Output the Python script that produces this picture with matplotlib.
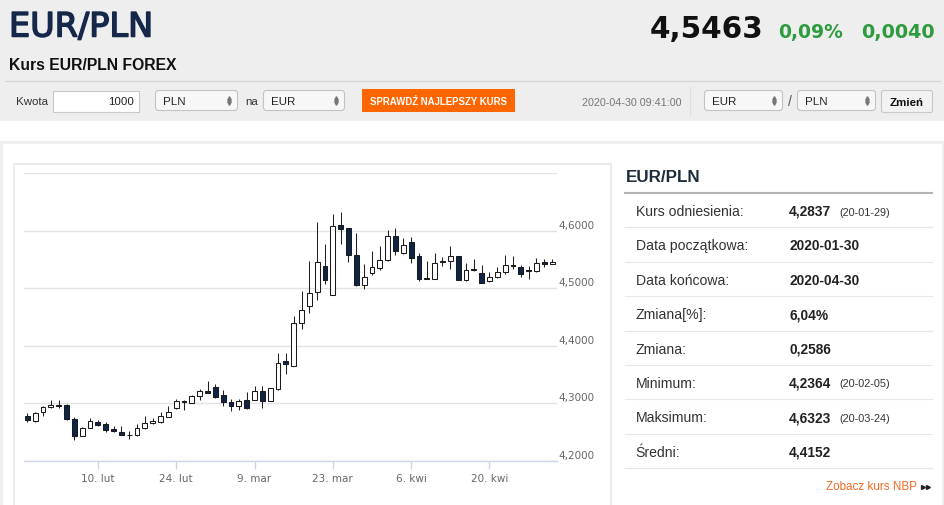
import matplotlib
matplotlib.use("Agg")
import matplotlib.pyplot as plt
import matplotlib.transforms as mtransforms
import matplotlib.patheffects as pe
from matplotlib.patches import Rectangle, FancyBboxPatch
import pandas as pd

# ---------------- data ----------------
dates = pd.bdate_range("2020-01-28", "2020-04-30")
opens = [4.2773, 4.2686, 4.2843, 4.2930, 4.2965, 4.2977, 4.2727, 4.2424, 4.2570, 4.2680,
         4.2640, 4.2552, 4.2494, 4.2442, 4.2453, 4.2564, 4.2651, 4.2669, 4.2767, 4.2919,
         4.3047, 4.3006, 4.3134, 4.3215, 4.3279, 4.3145, 4.3029, 4.2948, 4.3058, 4.3064,
         4.3221, 4.3041, 4.3250, 4.3738, 4.3645, 4.4395, 4.4684, 4.4936, 4.5382, 4.4885,
         4.6098, 4.6040, 4.5574, 4.5051, 4.5267, 4.5360, 4.5488, 4.5907, 4.5616, 4.5808,
         4.5558, 4.5175, 4.5169, 4.5465, 4.5471, 4.5558, 4.5140, 4.5326, 4.5267, 4.5122,
         4.5198, 4.5285, 4.5401, 4.5372, 4.5314, 4.5302, 4.5459, 4.5430]
highs = [4.2826, 4.2855, 4.2959, 4.3064, 4.3052, 4.2990, 4.2767, 4.2581, 4.2738, 4.2715,
         4.2669, 4.2610, 4.2610, 4.2511, 4.2640, 4.2773, 4.2744, 4.2843, 4.2948, 4.3076,
         4.3058, 4.3145, 4.3250, 4.3378, 4.3337, 4.3233, 4.3076, 4.3076, 4.3203, 4.3308,
         4.3297, 4.3273, 4.3878, 4.3878, 4.4517, 4.4953, 4.5476, 4.6157, 4.5778, 4.6300,
         4.6323, 4.6050, 4.5965, 4.5418, 4.5651, 4.5738, 4.6012, 4.6041, 4.5866, 4.5895,
         4.5616, 4.5471, 4.5616, 4.5547, 4.5738, 4.5560, 4.5448, 4.5517, 4.5401, 4.5285,
         4.5372, 4.5576, 4.5558, 4.5413, 4.5390, 4.5529, 4.5506, 4.5506]
lows = [4.2669, 4.2680, 4.2785, 4.2918, 4.2919, 4.2715, 4.2364, 4.2424, 4.2564, 4.2610,
        4.2494, 4.2494, 4.2448, 4.2378, 4.2436, 4.2552, 4.2640, 4.2657, 4.2767, 4.2901,
        4.2890, 4.3000, 4.3058, 4.3180, 4.3087, 4.2948, 4.2872, 4.2890, 4.2901, 4.3052,
        4.2919, 4.3041, 4.3233, 4.3512, 4.3645, 4.4285, 4.4569, 4.4789, 4.5068, 4.4885,
        4.5778, 4.5459, 4.5040, 4.4993, 4.5225, 4.5314, 4.5470, 4.5576, 4.5593, 4.5448,
        4.5128, 4.5160, 4.5160, 4.5390, 4.5343, 4.5140, 4.5128, 4.5297, 4.5099, 4.5110,
        4.5186, 4.5244, 4.5343, 4.5198, 4.5169, 4.5290, 4.5372, 4.5419]
closes = [4.2715, 4.2837, 4.2930, 4.2977, 4.2955, 4.2727, 4.2424, 4.2570, 4.2686, 4.2622,
          4.2541, 4.2512, 4.2453, 4.2450, 4.2564, 4.2651, 4.2698, 4.2773, 4.2843, 4.3047,
          4.3017, 4.3134, 4.3209, 4.3186, 4.3105, 4.3017, 4.2948, 4.3047, 4.2913, 4.3221,
          4.3047, 4.3262, 4.3698, 4.3686, 4.4395, 4.4627, 4.4918, 4.5459, 4.5138, 4.6080,
          4.6028, 4.5574, 4.5051, 4.5197, 4.5372, 4.5488, 4.5907, 4.5651, 4.5750, 4.5535,
          4.5169, 4.5169, 4.5448, 4.5471, 4.5558, 4.5140, 4.5314, 4.5340, 4.5099, 4.5198,
          4.5285, 4.5413, 4.5384, 4.5256, 4.5302, 4.5448, 4.5423, 4.5463]

tick_dates = ["2020-02-10", "2020-02-24", "2020-03-09", "2020-03-23", "2020-04-06", "2020-04-20"]
tick_labels = ["10. lut", "24. lut", "9. mar", "23. mar", "6. kwi", "20. kwi"]
y_ticks = [4.2, 4.3, 4.4, 4.5, 4.6]

stat_labels = ["Kurs odniesienia:", "Data początkowa:", "Data końcowa:", "Zmiana[%]:",
               "Zmiana:", "Minimum:", "Maksimum:", "Średni:"]
stat_values = ["4,2837", "2020-01-30", "2020-04-30", "6,04%", "0,2586", "4,2364", "4,6323", "4,4152"]
stat_dates = ["(20-01-29)", "", "", "", "", "(20-02-05)", "(20-03-24)", ""]

last_price = "4,5463"
chg_pct = "0,09%"
chg_abs = "0,0040"

# ---------------- figure ----------------
W, H = 945, 506
fig = plt.figure(figsize=(W / 100, H / 100), dpi=100)
fig.patch.set_facecolor("white")
SANS = ["Liberation Sans", "DejaVu Sans"]
VERD = ["DejaVu Sans"]
PT = 0.72  # px -> pt

bg = fig.add_axes([0, 0, 1, 1])
bg.set_xlim(0, W)
bg.set_ylim(H, 0)
bg.axis("off")

def rect(x0, y0, x1, y1, fc, ec="none", lw=0, z=1, rounded=0):
    if rounded:
        p = FancyBboxPatch((x0, y0), x1 - x0, y1 - y0,
                           boxstyle=f"round,pad=0,rounding_size={rounded}",
                           fc=fc, ec=ec, lw=lw, zorder=z)
    else:
        p = Rectangle((x0, y0), x1 - x0, y1 - y0, fc=fc, ec=ec, lw=lw, zorder=z)
    bg.add_patch(p)

def txt(x, y, s, size_px, color="#333333", weight="normal", ha="left", va="center", fam=SANS, z=5,
        stroke=0):
    t = bg.text(x, y, s, fontsize=size_px * PT, color=color, fontweight=weight,
                ha=ha, va=va, family=fam, zorder=z)
    if stroke:
        t.set_path_effects([pe.withStroke(linewidth=stroke, foreground=color)])
    return t

# header area
rect(0, 0, W, 122, "#eeeeee")
rect(0, 142, W, H, "#eeeeee")
rect(3, 145, 942, H + 2, "white", z=1.5)
bg.plot([5, 940], [81.5, 81.5], color="#d5d5d5", lw=1, zorder=2)

txt(9, 28, "EUR/PLN", 33.5, color="#15284a", fam=VERD, stroke=1.1)
txt(763, 29, last_price, 29.5, color="#111111", weight="bold", ha="right", fam=VERD)
txt(778, 32.5, chg_pct, 18.8, color="#2e9b3f", weight="bold", fam=VERD)
txt(861, 32.5, chg_abs, 19.2, color="#2e9b3f", weight="bold", fam=VERD)
txt(9, 65, "Kurs EUR/PLN FOREX", 15.7, color="#111111", weight="bold")

# form row
txt(16, 102, "Kwota", 11.5, color="#333333")
rect(52.5, 91.5, 138.5, 112.5, "white", ec="#c8c8c8", lw=0.8, z=2)
txt(134, 102, "1000", 11.5, color="#222222", ha="right", z=3)

def select(x0, x1, label):
    rect(x0 + 0.5, 91.5, x1 - 0.5, 111.5, "#f7f7f7", ec="#c3c3c3", lw=0.8, z=2, rounded=3)
    txt(x0 + 8, 101.5, label, 11.5, color="#222222", z=3)
    bg.plot([x1 - 9], [98.8], marker="^", ms=2.6, color="#777777", zorder=3)
    bg.plot([x1 - 9], [104.2], marker="v", ms=2.6, color="#777777", zorder=3)

select(155, 238, "PLN")
txt(245, 102, "na", 11.5)
select(263, 345, "EUR")
rect(362, 90, 515, 113, "#ff6600", z=2)
txt(438.5, 101.5, "SPRAWDŹ NAJLEPSZY KURS", 9.6, color="white", weight="bold", ha="center", z=3)
txt(582, 102.5, "2020-04-30 09:41:00", 10.8, color="#777777")
bg.plot([689.5, 689.5], [88, 116], color="#dddddd", lw=0.8, zorder=2)
select(704, 783, "EUR")
txt(790, 101.5, "/", 14, color="#555555", ha="center")
select(797, 876, "PLN")
rect(881.5, 91.5, 932.5, 113.5, "#f2f2f2", ec="#c8c8c8", lw=0.8, z=2, rounded=2)
txt(907, 102.5, "Zmień", 11.5, color="#111111", weight="bold", ha="center", z=3)

# chart box
rect(13.5, 164.5, 610.5, H + 5, "white", ec="#ebebeb", lw=1.4, z=2)

# right panel
txt(625.5, 177.5, "EUR/PLN", 17, color="#1d2b3a", weight="bold")
bg.plot([625, 932], [193.5, 193.5], color="#b3b3b3", lw=1.5, zorder=2)
row_h = 34.4
for i, (lab, val, dt) in enumerate(zip(stat_labels, stat_values, stat_dates)):
    yc = 212 + i * row_h
    txt(635.5, yc, lab, 14, color="#333333")
    txt(789, yc, val, 13.8, color="#222222", weight="bold")
    if dt:
        txt(839.5, yc + 0.5, dt, 10.9, color="#333333")
    ysep = 194 + (i + 1) * row_h
    bg.plot([625, 932], [ysep, ysep], color="#e8e8e8", lw=0.8, zorder=2)
txt(917, 487, "Zobacz kurs NBP", 11.6, color="#f26a21", ha="right")
bg.plot([922.5, 927.5], [487.5, 487.5], ls="none", marker=">", ms=2.8, color="#222222", zorder=3)

# ---------------- candlestick chart ----------------
x0p, x1p = 24, 557
ytop, ybot = 174.3, 461.7
ax = fig.add_axes([x0p / W, 1 - ybot / H, (x1p - x0p) / W, (ybot - ytop) / H])
ax.set_facecolor("none")
ax.set_zorder(5)
n = len(opens)
xs = list(range(n))
ax.set_xlim(-0.43, n - 1 + 0.62)
ax.set_ylim(4.2, 4.7)

for s in ["top", "left", "right"]:
    ax.spines[s].set_visible(False)
ax.spines["bottom"].set_color("#ccd6eb")
ax.spines["bottom"].set_linewidth(1)

ax.set_yticks([4.2, 4.3, 4.4, 4.5, 4.6, 4.7])
ax.yaxis.grid(True, color="#e3e3e3", lw=1)
ax.tick_params(axis="y", length=0, labelleft=False)
ax.set_axisbelow(True)

ax.vlines(xs, lows, highs, color="#222222", lw=0.75, zorder=3)
up_fc = ["white" if c >= o else "#0e2548" for o, c in zip(opens, closes)]
heights = [max(abs(c - o), 0.0004) for o, c in zip(opens, closes)]
bottoms = [min(o, c) for o, c in zip(opens, closes)]
ax.bar(xs, heights, bottom=bottoms, width=0.62, color=up_fc, edgecolor="#1b1b1b",
       linewidth=0.75, zorder=4)

date_index = {d.strftime("%Y-%m-%d"): i for i, d in enumerate(dates)}
ax.set_xticks([date_index[d] for d in tick_dates])
ax.set_xticklabels(tick_labels, family="DejaVu Sans", fontsize=7.5, color="#666666")
ax.tick_params(axis="x", length=6, width=1, color="#ccd6eb", pad=3)

off = mtransforms.offset_copy(ax.get_yaxis_transform(), fig=fig, x=1.5, y=6, units="dots")
for v in y_ticks:
    ax.text(1.0, v, f"{v:.4f}".replace(".", ","), transform=off, ha="left", va="center",
            family="DejaVu Sans", fontsize=7.5, color="#666666")

fig.savefig("out.png", dpi=100, facecolor=fig.get_facecolor())
